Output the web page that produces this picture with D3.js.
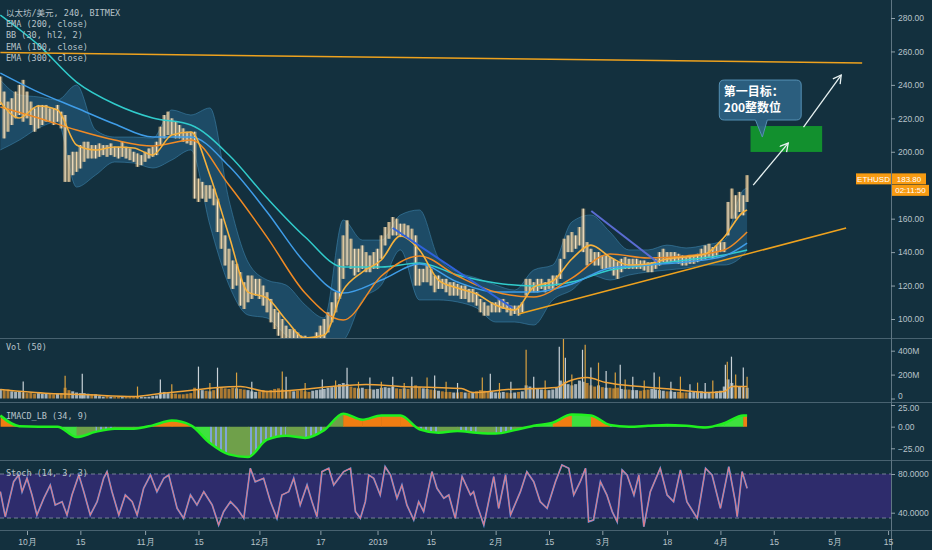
<!DOCTYPE html>
<html>
<head>
<meta charset="utf-8">
<script src="https://cdn.jsdelivr.net/npm/d3@7"></script>
<style>
  body { margin:0; background:#13303e; overflow:hidden; }
  .axis text { font-family:"Liberation Sans", Arial, sans-serif; font-size:8.5px; fill:#b8c3ca; }
  .axis line { stroke:#8fa0aa; }
  .legend { font-family:"DejaVu Sans Mono", "Noto Sans CJK SC", monospace; font-size:8.5px; fill:#b8c3ca; }
</style>
</head>
<body>
<script>
// first day of the series: 24 Sep 2018, one value per day
var t0 = new Date(2018, 8, 24);
function dayDate(d){ return new Date(t0.getTime() + d*864e5); }

// daily low / high of ETHUSD
var priceLo = [228,208,212,216,220,222,218,220,216,212,214,216,218,218,216,218,214,182,182,186,
  188,190,194,196,196,196,197,198,197,198,197,196,197,196,195,194,191,192,194,196,
  197,198,204,208,210,210,208,208,206,205,204,172,170,172,170,172,168,152,142,132,
  124,118,120,108,106,110,112,114,112,108,104,98,94,90,88,84,84,84,82,82,
  80,80,80,82,84,88,92,98,104,112,124,132,130,126,128,130,128,128,130,130,
  136,144,148,150,150,149,150,148,146,120,120,122,122,120,116,118,118,116,114,114,
  114,112,112,110,110,108,104,102,102,104,104,104,106,104,102,103,102,104,114,116,
  116,116,118,116,118,118,120,124,136,140,140,142,144,140,132,134,132,132,130,130,
  130,126,124,128,130,130,130,130,130,129,128,128,130,132,134,134,134,134,133,132,
  132,133,133,134,135,136,137,136,138,140,140,150,160,160,164,162,170];
var priceHi = [245,236,230,232,236,240,243,236,230,226,228,228,228,226,226,228,224,222,198,200,
  200,204,206,206,204,204,205,204,204,205,203,203,206,203,202,200,199,198,200,202,
  203,206,215,222,224,220,218,216,214,212,212,212,184,182,180,180,178,172,160,150,
  142,135,133,128,122,126,126,124,124,120,116,112,106,104,100,96,94,94,92,90,
  90,88,88,92,96,100,104,110,116,136,150,159,148,142,142,144,140,138,140,142,
  150,155,158,161,160,157,157,156,154,150,130,130,132,130,126,126,124,124,122,122,
  121,120,120,118,118,116,112,110,108,110,110,112,112,110,108,108,108,110,124,124,
  122,124,124,122,124,126,126,136,148,150,152,150,155,166,146,142,140,140,138,138,
  137,136,134,136,137,136,136,136,135,135,134,134,136,140,142,140,140,140,139,138,
  137,138,138,139,142,144,145,143,144,146,146,170,178,174,176,174,186];

// typical volume per day (M) and the tallest spikes
var volume = [80,70,75,60,55,60, 50,45,50,40,45,40,45,40,35,40,45, 90,70,60,50,45,45,40,35,35,
  20,15,20,15,12,15,12,15,12,15,20,15,12,15,20,25, 50,55,45,40,40,35,35,40,45,
  90,80,70,65,60,70,90,95,85,80,90,85, 80,75,70,60,55,60,70,65,70,80,85,75,70,
  65,60,65,70,60,55,65,70,75,80,90,95,100, 120,130,120,100,90,85,90,80,80,75,80,
  90,95,90,100,85,80,85,80,90,110,95, 85,80,75,70,65,60,55,55,50,50,55,50,50,55,60,
  70,65,60,55,50,50,55,50,45,50,55,60, 110,100,90,80,75,70,70,75,90,
  150,140,120,110,120,150,140,130,110,100,110, 95,90,90,85,90,80,75,75,70,70,65,70,75,80,75,
  70,65,60,60,55,55,50,50,50,55,55,60,55,50,55,60,65,100, 160,130,110,100,95,90];
var spikeDays = [6,17,21.5,36,42,45,52,55,57,62,66,74,75,80,84.5,88,91,94,97,100,103,106,108,112,114,117,120,
  126.5,128.6,131,134,138,140,143,146.7,147.8,148.3,150,152.8,153.5,155,157,159,161.4,162.7,164,166,169,
  171.6,173,176,178.5,181,183,185,187,190.3,190.8,191.9,193,195,196];
var spikeVals = [142,190,208,100,158,120,267,130,258,217,140,225,183,130,158,150,258,140,175,140,183,130,183,175,192,140,130,
  175,208,130,140,408,183,150,433,500,342,200,408,450,260,300,230,217,283,160,183,150,
  217,183,140,183,120,133,130,150,283,308,350,200,260,183];
var volMaDays = [0,13,22,35,42,52,57,63,70,79,87,96,105,114,121,124,133,146,149,154,159,168,177,186,190,192,196];
var volMaVals = [75,42,33,17,42,75,92,100,58,75,100,117,100,92,83,50,75,92,142,175,133,100,75,50,58,100,100];

// moving averages, every 10 days
var emaDays = [0,10,20,30,40,50,60,70,80,90,100,110,120,130,140,150,160,170,180,190,196];
var ema300 = [281.8,263.9,241.7,228.6,220.2,216.0,198.1,172.3,149.0,131.1,131.1,133.5,126.3,121.5,119.7,122.1,129.3,132.3,135.3,138.3,141.3];
var ema200 = [247.1,235.7,226.2,216.6,208.8,208.8,191.5,164.0,133.5,115.5,123.3,132.9,122.1,116.1,116.1,120.9,130.5,132.3,134.1,137.7,145.4];
var ema100 = [226.8,220.2,213.0,207.0,203.4,207.0,180.1,149.0,115.5,99.4,125.7,137.7,125.7,116.1,113.2,124.5,138.9,136.5,137.7,141.3,152.0];

// Bollinger bands and IMACD, every 5 days
var gridDays = [0,5,10,15,20,25,30,35,40,45,50,55,60,65,70,75,80,85,90,95,100,105,110,115,120,125,130,135,140,145,150,155,160,165,170,175,180,185,190,195,196];
var bbMid = [229.8,220.2,227.4,225.0,204.1,201.1,202.9,202.3,198.1,210.0,211.8,186.0,150.0,116.1,112.6,99.4,88.6,90.4,117.3,128.1,135.3,149.6,141.3,123.3,118.5,114.9,108.4,105.4,119.1,122.7,135.9,144.2,137.1,132.3,132.9,135.9,137.1,138.9,149.0,164.0,165.2];
var bbUp = [242.9,234.0,232.8,231.0,239.9,213.0,208.8,208.8,208.2,225.0,222.0,226.2,171.2,134.1,123.3,120.3,108.4,100.6,159.2,147.2,147.2,162.2,165.2,136.5,128.1,124.5,120.3,117.3,129.3,132.3,158.0,162.2,152.0,141.3,141.3,144.2,142.5,144.2,147.2,177.1,178.3];
var bbLo = [201.1,207.0,214.2,217.8,178.9,186.1,193.9,193.3,190.3,195.1,201.1,156.2,120.3,102.4,100.6,90.4,84.4,84.4,87.4,111.4,120.3,141.3,111.4,111.4,110.2,106.6,98.2,98.2,96.4,111.4,117.3,126.3,123.3,126.3,128.1,129.3,130.5,132.3,132.3,138.3,141.3];
var macdVals = [12.8,0.5,0,0,-12,-6,-2.5,-2.3,1.5,7,1.5,-19,-32,-35,-15,-10.5,-13,-4,15,8,12.8,12.8,-3,-7,-5,-7,-8,-4,1,4.7,14,13,2,0,1,2,1,-1,4,13,13];
var macdCat = ['o','g','g','g','v','b','v','v','o','o','g','b','v','b','b','v','b','v','o','o','o','o','b','v','b','v','b','v','g','o','g','o','b','g','g','g','g','g','g','o','g'];

// stochastic turning points
var stochDays = [0,1.3,3.5,4.8,5.7,7.0,8.3,9.6,11.4,13.1,14.4,16.2,17.5,18.8,20.6,21.9,23.6,25.4,27.1,28.0,
  29.3,31.1,32.8,34.6,35.9,37.6,39.4,41.1,42.9,44.2,46.4,48.1,49.9,51.6,53.4,55.6,57.3,58.6,60.4,62.1,
  63.9,65.6,66.9,69.1,70.9,72.6,73.9,75.7,77.0,78.7,80.5,81.8,83.1,84.4,86.2,87.5,88.8,90.1,91.9,93.2,
  94.5,95.8,96.7,98.0,99.7,101.0,102.4,104.1,105.4,106.7,108.5,109.8,111.1,113.3,114.6,116.4,117.7,119.4,121.2,123.4,
  124.2,125.1,126.9,129.5,130.8,132.6,133.9,136.5,138.2,140.0,141.7,143.5,145.7,147.4,149.2,150.5,152.2,153.6,154.4,155.7,
  157.5,159.2,160.6,161.9,163.2,164.5,166.3,167.6,168.9,170.6,173.2,175.0,176.7,178.5,180.2,182.9,185.1,186.8,189.0,191.2,
  192.9,193.4,194.7,196.0];
var stochVals = [61.7,35.9,72.0,79.0,61.7,75.5,58.3,37.6,54.9,68.6,48.0,51.4,37.6,58.3,79.0,61.7,37.6,51.4,75.5,82.4,
  61.7,37.6,58.3,51.4,37.6,65.2,79.0,61.7,75.5,79.0,44.5,34.2,58.3,48.0,61.7,48.0,27.3,41.1,51.4,44.5,
  34.2,85.9,72.0,75.5,51.4,34.2,58.3,61.7,75.5,48.0,68.6,51.4,35.9,82.4,85.9,68.6,75.5,82.4,85.9,41.1,
  34.2,51.4,79.0,75.5,58.3,87.5,79.0,54.9,68.6,48.0,32.5,51.4,41.1,82.4,65.2,54.9,58.3,34.2,77.2,58.3,
  61.7,48.0,27.3,77.2,44.5,79.0,37.6,61.7,82.4,72.0,51.4,44.5,72.0,89.3,85.9,58.3,72.0,85.9,30.7,32.5,
  72.0,58.3,41.1,30.7,84.1,79.0,58.3,79.0,25.6,61.7,85.9,58.3,51.4,84.1,51.4,34.2,85.9,79.0,44.5,87.5,
  51.4,35.9,82.4,65.2];
var stochBands = [80, 34.5];

// drawings on the chart (day index, price)
var resistanceDays = [0,226.2], resistancePrices = [259.3,253.1];
var supportDays = [136,222], supportPrices = [103.0,154.4];
var down1Days = [103,134.4], down1Prices = [154.4,106.6];
var down2Days = [155.1,172.4], down2Prices = [164.6,134.1];
var targetDays = [196.9,215.7], targetPrices = [199.9,215.4];
var arrow1Days = [197.6,206.8], arrow1Prices = [180.1,205.2];
var arrow2Days = [210.8,220.7], arrow2Prices = [214.8,245.9];
var calloutDays = [188.7,210.2], calloutPrices = [219.0,242.9];
var calloutTipDays = [198.2,200.0,201.3], calloutTipPrices = [219.0,208.8,219.0];
var calloutText = ["第一目标：","200整数位"], calloutTextDay = 189.9, calloutTextPrices = [233.6,223.8];

// axes labels
var priceTicks = [100,120,140,160,200,220,240,260,280];
var volTicks = [0,200,400], volTickLabels = ["0","200M","400M"];
var macdTicks = [-25,0,25];
var stochTicks = [40,80];
var tickDates = [new Date(2018,9,1),new Date(2018,9,15),new Date(2018,10,1),new Date(2018,10,15),new Date(2018,11,1),
  new Date(2018,11,17),new Date(2019,0,1),new Date(2019,0,15),new Date(2019,1,1),new Date(2019,1,15),new Date(2019,2,1),
  new Date(2019,2,18),new Date(2019,3,1),new Date(2019,3,15),new Date(2019,4,1),new Date(2019,4,15)];
var tickLabels = ["10月","15","11月","15","12月","17","2019","15","2月","15","3月","18","4月","15","5月","15"];
var legendLines = ["以太坊/美元, 240, BITMEX","EMA (200, close)","BB (30, hl2, 2)","EMA (100, close)","EMA (300, close)"];
var lastPrice = 183.80, symbol = "ETHUSD", countdown = "02:11:50";

var width = 932, height = 550, axisX = 891;

var svg = d3.select("body").append("svg").attr("width",width).attr("height",height);
svg.append("rect").attr("width",width).attr("height",height).attr("fill","#13303e");
var defs = svg.append("defs");

function clip(id, y0, y1){
  defs.append("clipPath").attr("id",id).append("rect")
    .attr("x",0).attr("y",y0).attr("width",axisX).attr("height",y1-y0);
}
clip("cPrice",0,338); clip("cVol",338,402); clip("cMacd",403,460); clip("cStoch",461,530);

var x = d3.scaleTime().domain([dayDate(-0.09), dayDate(233.77)]).range([0,axisX]);
var y = d3.scaleLinear().domain([100,280]).range([319,18]);
var yVol = d3.scaleLinear().domain([0,400]).range([398.5,350.7]);
var yMacd = d3.scaleLinear().domain([-25,25]).range([448.3,405]);
var yStoch = d3.scaleLinear().domain([40,80]).range([512.7,474]);
function xd(d){ return x(dayDate(d)); }

var candles = priceLo.map(function(lo,i){ return {day:i, lo:lo, hi:priceHi[i], vol:volume[i]}; });
var grid = gridDays.map(function(d,i){ return {day:d, up:bbUp[i], mid:bbMid[i], lo:bbLo[i], macd:macdVals[i], cat:macdCat[i]}; });
var emas = emaDays.map(function(d,i){ return {day:d, e300:ema300[i], e200:ema200[i], e100:ema100[i]}; });

// ---------- price pane ----------
var gp = svg.append("g").attr("clip-path","url(#cPrice)");

gp.append("path").datum(grid)
  .attr("d", d3.area().x(function(d){ return xd(d.day); })
    .y0(function(d){ return y(d.lo); }).y1(function(d){ return y(d.up); }).curve(d3.curveMonotoneX))
  .attr("fill","#2b6d96").attr("opacity",0.45);
["up","lo"].forEach(function(k){
  gp.append("path").datum(grid)
    .attr("d", d3.line().x(function(d){ return xd(d.day); }).y(function(d){ return y(d[k]); }).curve(d3.curveMonotoneX))
    .attr("fill","none").attr("stroke","#3f86b0").attr("stroke-width",0.8).attr("opacity",0.7);
});

// candles: a soft full-day band plus a thin bright core
gp.selectAll(".cband").data(candles).enter().append("rect")
  .attr("x", function(d){ return xd(d.day) - 1.95; })
  .attr("width", 3.9)
  .attr("y", function(d){ return y(d.hi); })
  .attr("height", function(d){ return y(d.lo) - y(d.hi); })
  .attr("fill", "#e6c48f").attr("opacity", 0.5);
gp.selectAll(".candle").data(candles).enter().append("rect")
  .attr("x", function(d){ return xd(d.day) - 0.6; })
  .attr("width", 1.2)
  .attr("y", function(d){ return y(d.hi); })
  .attr("height", function(d){ return y(d.lo) - y(d.hi); })
  .attr("fill", function(d,i){ return i % 2 ? "#f6e3c2" : "#efd3a4"; });

[["e300","#31cccc"],["e200","#3f9de8"],["e100","#f08a24"]].forEach(function(s){
  gp.append("path").datum(emas)
    .attr("d", d3.line().x(function(d){ return xd(d.day); }).y(function(d){ return y(d[s[0]]); }).curve(d3.curveMonotoneX))
    .attr("fill","none").attr("stroke",s[1]).attr("stroke-width",1.5);
});
gp.append("path").datum(grid)
  .attr("d", d3.line().x(function(d){ return xd(d.day); }).y(function(d){ return y(d.mid); }).curve(d3.curveMonotoneX))
  .attr("fill","none").attr("stroke","#f5b13d").attr("stroke-width",1.6);

// drawings
function seg(days, prices, color, w){
  gp.append("line").attr("x1",xd(days[0])).attr("y1",y(prices[0]))
    .attr("x2",xd(days[1])).attr("y2",y(prices[1]))
    .attr("stroke",color).attr("stroke-width",w);
}
seg(resistanceDays, resistancePrices, "#eea21e", 1.5);
seg(supportDays, supportPrices, "#eea21e", 1.5);
seg(down1Days, down1Prices, "#2f62dc", 2);
seg(down2Days, down2Prices, "#5a6cd2", 2);

gp.append("rect")
  .attr("x", xd(targetDays[0])).attr("width", xd(targetDays[1]) - xd(targetDays[0]))
  .attr("y", y(targetPrices[1])).attr("height", y(targetPrices[0]) - y(targetPrices[1]))
  .attr("fill","#12902e");

defs.append("marker").attr("id","arr").attr("markerUnits","userSpaceOnUse")
  .attr("markerWidth",12).attr("markerHeight",12).attr("refX",9).attr("refY",5).attr("orient","auto")
  .append("path").attr("d","M1,0.5 L9,5 L1,9.5").attr("fill","none").attr("stroke","#e8f2f2").attr("stroke-width",1.3);
[[arrow1Days,arrow1Prices],[arrow2Days,arrow2Prices]].forEach(function(a){
  gp.append("line").attr("x1",xd(a[0][0])).attr("y1",y(a[1][0]))
    .attr("x2",xd(a[0][1])).attr("y2",y(a[1][1]))
    .attr("stroke","#e8f2f2").attr("stroke-width",1.3).attr("marker-end","url(#arr)");
});

// callout bubble
var cl = xd(calloutDays[0]), cr = xd(calloutDays[1]), ct = y(calloutPrices[1]), cb = y(calloutPrices[0]), r = 5;
var p = d3.path();
p.moveTo(cl + r, ct); p.lineTo(cr - r, ct); p.quadraticCurveTo(cr, ct, cr, ct + r);
p.lineTo(cr, cb - r); p.quadraticCurveTo(cr, cb, cr - r, cb);
p.lineTo(xd(calloutTipDays[2]), y(calloutTipPrices[2]));
p.lineTo(xd(calloutTipDays[1]), y(calloutTipPrices[1]));
p.lineTo(xd(calloutTipDays[0]), y(calloutTipPrices[0]));
p.lineTo(cl + r, cb); p.quadraticCurveTo(cl, cb, cl, cb - r);
p.lineTo(cl, ct + r); p.quadraticCurveTo(cl, ct, cl + r, ct); p.closePath();
gp.append("path").attr("d", p.toString()).attr("fill","#2f6488").attr("fill-opacity",0.88)
  .attr("stroke","#5590b4").attr("stroke-width",1);
calloutText.forEach(function(t,i){
  gp.append("text").attr("x", xd(calloutTextDay)).attr("y", y(calloutTextPrices[i]))
    .attr("font-family","'Noto Sans CJK SC', sans-serif").attr("font-size",12).attr("font-weight","bold")
    .attr("fill","#ffffff").text(t);
});

// ---------- volume pane ----------
var gv = svg.append("g").attr("clip-path","url(#cVol)");
function isUp(i){ return i == 0 || candles[i].lo + candles[i].hi >= candles[i-1].lo + candles[i-1].hi; }
gv.selectAll(".vb").data(candles).enter().append("rect")
  .attr("x", function(d){ return xd(d.day) - 1.5; }).attr("width", 3)
  .attr("y", function(d){ return yVol(d.vol); })
  .attr("height", function(d){ return yVol(0) - yVol(d.vol); })
  .attr("fill", function(d,i){ return isUp(i) ? "#c9d2d8" : "#d38d2f"; }).attr("opacity",0.8);
gv.selectAll(".vs").data(spikeDays).enter().append("line")
  .attr("x1", function(d){ return xd(d); }).attr("x2", function(d){ return xd(d); })
  .attr("y1", yVol(0)).attr("y2", function(d,i){ return yVol(spikeVals[i]); })
  .attr("stroke", function(d,i){ return i % 2 ? "#d8a040" : "#c9d2d8"; }).attr("stroke-width",1.2);
gv.append("path").datum(volMaDays)
  .attr("d", d3.line().x(function(d){ return xd(d); }).y(function(d,i){ return yVol(volMaVals[i]); }).curve(d3.curveMonotoneX))
  .attr("fill","none").attr("stroke","#f0a43a").attr("stroke-width",1.5);

// ---------- IMACD pane ----------
var gm = svg.append("g").attr("clip-path","url(#cMacd)");
var macdArea = d3.area().x(function(d){ return xd(d.day); }).y0(yMacd(0))
  .y1(function(d){ return yMacd(d.macd); }).curve(d3.curveMonotoneX);
defs.append("clipPath").attr("id","cMacdArea").append("path").attr("d", macdArea(grid));
var stripes = defs.append("pattern").attr("id","stripes").attr("patternUnits","userSpaceOnUse")
  .attr("width",5).attr("height",10);
stripes.append("rect").attr("width",5).attr("height",10).attr("fill","#6fa04a");
stripes.append("rect").attr("width",2).attr("height",10).attr("fill","#7fa6d6");
var catColor = {o:"#f07d12", g:"#3ee03e", v:"#6fa04a", b:"url(#stripes)"};
var gmf = gm.append("g").attr("clip-path","url(#cMacdArea)");
grid.slice(0,-1).forEach(function(d,i){
  gmf.append("rect").attr("x", xd(d.day)).attr("width", xd(grid[i+1].day) - xd(d.day) + 0.5)
    .attr("y",403).attr("height",57).attr("fill", catColor[d.cat]);
});
gm.append("path").datum(grid)
  .attr("d", d3.line().x(function(d){ return xd(d.day); }).y(function(d){ return yMacd(d.macd); }).curve(d3.curveMonotoneX))
  .attr("fill","none").attr("stroke","#1ff01f").attr("stroke-width",2.5);

// ---------- stochastic pane ----------
var gs = svg.append("g").attr("clip-path","url(#cStoch)");
gs.append("rect").attr("x",0).attr("width",axisX)
  .attr("y", yStoch(stochBands[0])).attr("height", yStoch(stochBands[1]) - yStoch(stochBands[0]))
  .attr("fill","#2e2c6c");
stochBands.forEach(function(b){
  gs.append("line").attr("x1",0).attr("x2",axisX).attr("y1",yStoch(b)).attr("y2",yStoch(b))
    .attr("stroke","#8a94a8").attr("stroke-dasharray","4,3").attr("stroke-width",0.8);
});
var stochLine = d3.line().x(function(d){ return xd(d); }).y(function(d,i){ return yStoch(stochVals[i]); });
gs.append("path").datum(stochDays).attr("d", stochLine).attr("fill","none").attr("stroke","#4d8fe0").attr("stroke-width",1.8);
gs.append("path").datum(stochDays).attr("d", stochLine).attr("fill","none").attr("stroke","#df7a88").attr("stroke-width",1.1);

// ---------- separators and axes ----------
[338.5,402.5,460.5,530.5].forEach(function(v){
  svg.append("line").attr("x1",0).attr("x2",width).attr("y1",v).attr("y2",v).attr("stroke","#486270").attr("stroke-width",1);
});
svg.append("line").attr("x1",axisX+0.5).attr("x2",axisX+0.5).attr("y1",0).attr("y2",height).attr("stroke","#5f7683");

function rightAxis(scale, ticks, fmt){
  var g = svg.append("g").attr("class","axis").attr("transform","translate("+axisX+",0)")
    .call(d3.axisRight(scale).tickValues(ticks).tickFormat(fmt).tickSize(4).tickPadding(3));
  g.select(".domain").remove();
  return g;
}
rightAxis(y, priceTicks, d3.format(".2f"));
var gvAxis = rightAxis(yVol, volTicks, function(d,i){ return volTickLabels[i]; });
gvAxis.selectAll("text").filter(function(d){ return d == 0; }).attr("dy","0.05em");
var gmAxis = rightAxis(yMacd, macdTicks, d3.format(".2f"));
gmAxis.selectAll("text").filter(function(d){ return d == 25; }).attr("dy","0.65em");
rightAxis(yStoch, stochTicks, d3.format(".4f"));

var gx = svg.append("g").attr("class","axis").attr("transform","translate(0,531)")
  .call(d3.axisBottom(x).tickValues(tickDates).tickFormat(function(d,i){ return tickLabels[i]; }).tickSize(4).tickPadding(4));
gx.select(".domain").remove();

// last price labels
var ly = y(lastPrice);
svg.append("rect").attr("x",856).attr("y",ly-5.5).attr("width",35).attr("height",11).attr("fill","#f79b12");
svg.append("rect").attr("x",axisX+1).attr("y",ly-5.5).attr("width",34).attr("height",11).attr("fill","#f79b12");
svg.append("rect").attr("x",axisX+1).attr("y",ly+6).attr("width",37).attr("height",11).attr("fill","#f79b12");
[[873.5, ly+3, symbol],[axisX+18, ly+3, d3.format(".2f")(lastPrice)],[axisX+19.5, ly+14.5, countdown]].forEach(function(t){
  svg.append("text").attr("x",t[0]).attr("y",t[1]).attr("text-anchor","middle")
    .attr("font-family","'Liberation Sans', sans-serif").attr("font-size",8).attr("fill","#ffffff").text(t[2]);
});

// legends
var legendY = [15.7,27,38,49.7,61.3];
legendLines.forEach(function(t,i){
  svg.append("text").attr("class","legend").attr("x",6).attr("y",legendY[i]).text(t);
});
svg.append("text").attr("class","legend").attr("x",6).attr("y",350).text("Vol (50)");
svg.append("text").attr("class","legend").attr("x",6).attr("y",419).text("IMACD_LB (34, 9)");
svg.append("text").attr("class","legend").attr("x",6).attr("y",476).text("Stoch (14, 3, 3)");
</script>
</body>
</html>
